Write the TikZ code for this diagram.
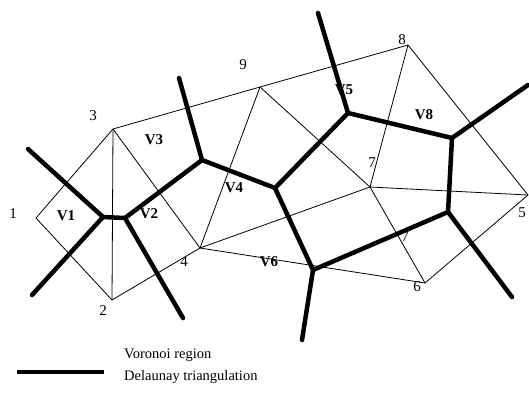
\documentclass[tikz,border=0pt]{standalone}
\usepackage{fontspec}
\setmainfont{Liberation Serif}
\tikzset{
  delaunay/.style={black,line width=0.8pt},
  voronoi/.style={black,line width=4.5pt,line cap=round,line join=round},
  site/.style={font=\fontsize{15}{15}\selectfont,inner sep=0pt},
  region/.style={font=\bfseries\fontsize{15}{15}\selectfont,inner sep=0pt},
  legend/.style={font=\fontsize{14.5}{15}\selectfont,inner sep=0pt,anchor=west}
}
\begin{document}
\begin{tikzpicture}[x=1pt,y=-1pt]
    \useasboundingbox (0,0) rectangle (529,394);
    % Cac diem
    \coordinate (s1) at (36,218);
    \coordinate (s2) at (112,300);
    \coordinate (s3) at (113,129);
    \coordinate (s4) at (200,248);
    \coordinate (s5) at (528,195);
    \coordinate (s6) at (425,283);
    \coordinate (s7) at (370,187);
    \coordinate (s8) at (408,45);
    \coordinate (s9) at (260,87);

    % Tam giac Delaunay
    \foreach \a/\b in {1/3,1/2,3/2,3/4,2/4,3/9,9/4,9/8,9/7,4/7,4/6,8/7,8/5,7/5,7/6,6/5}
    \draw[delaunay] (s\a) -- (s\b);

    % Dinh Voronoi
    \coordinate (vA) at (103,217);
    \coordinate (vB) at (125,218);
    \coordinate (vC) at (202,160);
    \coordinate (vD) at (275,188);
    \coordinate (vE) at (348,113);
    \coordinate (vF) at (452,138);
    \coordinate (vG) at (448,212);
    \coordinate (vH) at (313,270);
    % Dau mut ra ngoai
    \coordinate (eA1) at (28,149);
    \coordinate (eA2) at (32,295);
    \coordinate (eB) at (183,318);
    \coordinate (eC) at (179,78);
    \coordinate (eE) at (318,13);
    \coordinate (eF) at (528,85);
    \coordinate (eG) at (512,297);
    \coordinate (eH) at (302,340);

    % Vung Voronoi
    \foreach \a/\b in {vA/vB,vA/eA1,vA/eA2,vB/vC,vB/eB,vC/eC,vC/vD,vD/vE,vE/eE,vE/vF,vF/eF,vF/vG,vG/eG,vG/vH,vH/eH,vD/vH}
    \draw[voronoi] (\a) -- (\b);

    % Nhan cac diem
    \node[site] (l1) at (13,214) {1};
    \node[site] (l2) at (103,311) {2};
    \node[site] (l3) at (93,116) {3};
    \node[site] (l4) at (184,262) {4};
    \node[site] (l5) at (522,213) {5};
    \node[site] (l6) at (417,287) {6};
    \node[site] (l7) at (372,163) {7};
    \node[site] (l7b) at (405,237) {7};
    \node[site] (l8) at (402,40) {8};
    \node[site] (l9) at (243,65) {9};

    % Nhan vung
    \node[region] (r1) at (66,216) {V1};
    \node[region] (r2) at (149,214) {V2};
    \node[region] (r3) at (154,140) {V3};
    \node[region] (r4) at (234,188) {V4};
    \node[region] (r5) at (344,90) {V5};
    \node[region] (r6) at (269,262) {V6};
    \node[region] (r8) at (424,115) {V8};

    % Chu thich
    \coordinate (k1) at (17,372);
    \coordinate (k2) at (104,372);
    \draw[black,line width=3.5pt] (k1) -- (k2);
    \node[legend] (t1) at (124,355) {Voronoi region};
    \node[legend] (t2) at (124,377) {Delaunay triangulation};
\end{tikzpicture}
\end{document}
